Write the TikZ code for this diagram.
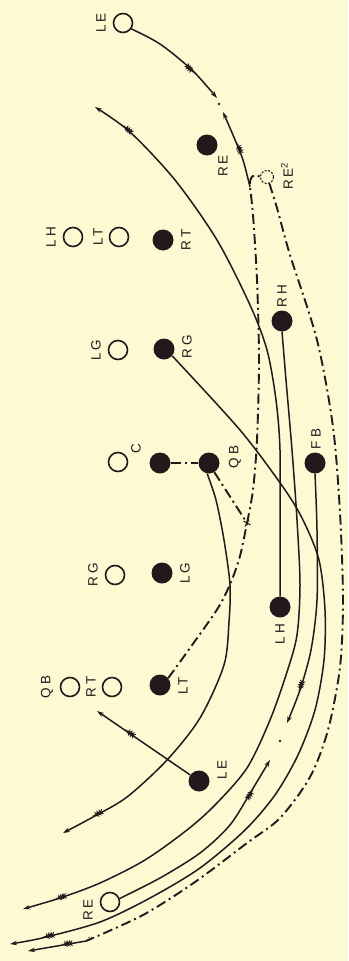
\documentclass[tikz,border=0pt]{standalone}
\usepackage{fontspec}
\newfontfamily\lblfont[LetterSpace=22]{Liberation Sans}
\usetikzlibrary{arrows.meta,decorations.markings}
\definecolor{paper}{RGB}{252,250,210}
\definecolor{ink}{RGB}{34,25,28}
\tikzset{
  off/.style={circle,draw=ink,line width=1.6pt,minimum size=19pt,inner sep=0pt},
  on/.style={circle,fill=ink,minimum size=21pt,inner sep=0pt},
  ghost/.style={circle,draw=ink,line width=1.1pt,dash pattern=on 2pt off 1.5pt,minimum size=13pt,inner sep=0pt},
  lbl/.style={rotate=90,font=\lblfont\fontsize{13.5}{13.5}\selectfont,text=ink,inner sep=0pt},
  run/.style={draw=ink,line width=1.5pt},
  pass/.style={draw=ink,line width=1.9pt,dash pattern=on 10pt off 4pt on 2pt off 4pt},
  tip/.style={-{Stealth[length=7pt,width=4.5pt]}},
  feather/.style={postaction={decorate,decoration={markings,mark=at position #1 with {\foreach \k in {0,2.5,5}{\draw[solid,line width=0.9pt] (-\k-2.2,2.8) -- (-\k,0) -- (-\k-2.2,-2.8);}}}}},
  feather/.default=-38pt
}
\begin{document}
\begin{tikzpicture}[x=1pt,y=-1pt]
  \fill[paper] (0,0) rectangle (348,961);
  \useasboundingbox (0,0) rectangle (348,961);
  % defence
  \node[off] (dLE) at (123,23) {};
  \node[off] (dLH) at (73,237) {};
  \node[off] (dLT) at (119,237) {};
  \node[off] (dLG) at (118,350) {};
  \node[off] (dC) at (118,462) {};
  \node[off] (dRG) at (115,575) {};
  \node[off] (dRT) at (112,687) {};
  \node[off] (dQB) at (70,687) {};
  \node[off] (dRE) at (110,902) {};
  \node[lbl] (ldLE) at (101,23) {LE};
  \node[lbl] (ldLH) at (51,237) {LH};
  \node[lbl] (ldLT) at (98,237) {LT};
  \node[lbl] (ldLG) at (96,350) {LG};
  \node[lbl] (ldC) at (136,449) {C};
  \node[lbl] (ldRG) at (93,575) {RG};
  \node[lbl] (ldRT) at (91,687) {RT};
  \node[lbl] (ldQB) at (47,687) {QB};
  \node[lbl] (ldRE) at (88,910) {RE};
  % offence
  \node[on] (oRE) at (207,145) {};
  \node[ghost] (oRE2) at (267,177) {};
  \node[on] (oRT) at (163,240) {};
  \node[on] (oRG) at (164,349) {};
  \node[on] (oRH) at (282,321) {};
  \node[on] (oC) at (160,463) {};
  \node[on] (oQB) at (209,463) {};
  \node[on] (oFB) at (315,463) {};
  \node[on] (oLG) at (162,573) {};
  \node[on] (oLT) at (160,685) {};
  \node[on] (oLH) at (280,607) {};
  \node[on] (oLE) at (199,781) {};
  \node[lbl] (loRE) at (223,166) {RE};
  \node[lbl] (loRE2) at (287,176) {RE\textsuperscript{2}};
  \node[lbl] (loRT) at (186,240) {RT};
  \node[lbl] (loRG) at (187,347) {RG};
  \node[lbl] (loRH) at (282,296) {RH};
  \node[lbl] (loQB) at (235,457) {QB};
  \node[lbl] (loFB) at (316,439) {FB};
  \node[lbl] (loLG) at (185,573) {LG};
  \node[lbl] (loLT) at (183,686) {LT};
  \node[lbl] (loLH) at (280,634) {LH};
  \node[lbl] (loLE) at (222,770) {LE};
  % free ends
  \coordinate (xm) at (247,523);
  \coordinate (hk) at (250,187);
  \coordinate (bl) at (86,941);
  \coordinate (a1) at (217,98);
  \coordinate (a2) at (223,112);
  \coordinate (a3) at (28,951);
  \coordinate (a4) at (95,107);
  \coordinate (a5) at (23,909);
  \coordinate (a6) at (10,944);
  \coordinate (a7) at (287,723);
  \coordinate (a8) at (63,833);
  \coordinate (a9) at (97,711);
  \coordinate (a10) at (270,760);
  % ball
  \draw[pass] (oC.east) -- (oQB.west);
  \draw[pass] (oQB.-60) -- (xm);
  \draw[pass] plot[smooth] coordinates {(oLT.40) (190,648) (218,608) (231,582) (240,556) (xm)};
  \draw[pass] plot[smooth] coordinates {(xm) (253,490) (257,440) (259,360) (257,280) (253,215) (hk)} .. controls (249,177) and (254,172) .. (oRE2.west);
  \draw[pass] plot[smooth] coordinates {(oRE2.-70) (277,208) (290,255) (317,340) (333,427) (340,513) (343,600) (340,667) (328,730) (310,777) (280,818) (247,843) (195,882) (143,915) (bl)};
  \draw[run,tip,feather] (bl) -- (a3);
  \node[text=ink,font=\fontsize{6}{6}\selectfont,rotate=90,inner sep=0pt] (two) at (90,939) {2};
  \draw[line width=1pt,ink] (xm) +(-3.5,-2) -- +(3.5,2) (xm) +(-2,3.5) -- +(2,-3.5);
  % runs
  \draw[run,tip,feather] plot[smooth] coordinates {(dLE.-35) (160,44) (192,70) (a1)};
  \draw[run,tip,feather] plot[smooth] coordinates {(hk) (243,160) (233,135) (a2)};
  \draw[run,tip,feather] plot[smooth] coordinates {(oLH.north) (280,530) (280,450) (276,400) (267,350) (250,305) (217,240) (175,180) (130,132) (a4)};
  \draw[run,tip,feather] plot[smooth] coordinates {(oRH.south) (286,380) (292,450) (297,520) (300,585) (297,635) (287,672) (270,720) (247,768) (215,805) (187,830) (145,860) (100,883) (60,898) (a5)};
  \draw[run,tip,feather] plot[smooth] coordinates {(oRG.-40) (240,430) (283,487) (303,520) (319,560) (325,610) (324,660) (315,710) (298,755) (275,795) (245,830) (200,868) (150,898) (100,922) (42,938) (a6)};
  \draw[run,tip,feather] plot[smooth] coordinates {(oFB.south) (317,530) (317,600) (311,650) (300,690) (a7)};
  \draw[run,tip,feather] plot[smooth] coordinates {(oQB.-100) (216,500) (224,540) (230,585) (229,622) (224,665) (200,718) (167,760) (127,797) (93,817) (a8)};
  \draw[run,tip,feather] (oLE) -- (a9);
  \draw[run,tip,feather] plot[smooth] coordinates {(dRE.20) (160,878) (200,853) (230,825) (252,790) (a10)};
  \fill[ink] (219,104) circle (1.4pt) (280,741) circle (1.4pt);
\end{tikzpicture}
\end{document}
